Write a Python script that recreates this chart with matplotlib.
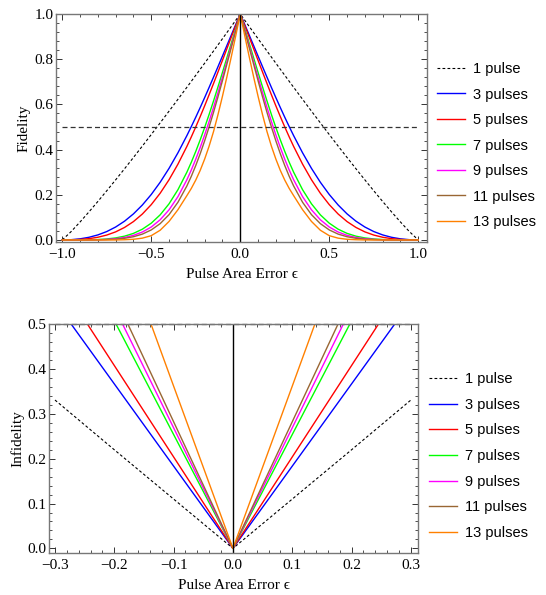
import matplotlib
matplotlib.use('Agg')
import matplotlib.pyplot as plt
from matplotlib.ticker import MultipleLocator, FuncFormatter

# ---------------- data ----------------
labels = ["1 pulse", "3 pulses", "5 pulses", "7 pulses", "9 pulses", "11 pulses", "13 pulses"]
colors = ["black", "#0000ff", "#ff0000", "#00ff00", "#ff00ff", "#996633", "#ff8000"]

# top panel: fidelity vs |eps| (curves are symmetric in eps)
eps_top = [0, 0.025, 0.05, 0.075, 0.1, 0.125, 0.15, 0.175, 0.2, 0.225, 0.25, 0.275, 0.3,
           0.35, 0.4, 0.45, 0.5, 0.55, 0.6, 0.65, 0.7, 0.75, 0.8, 0.85, 0.9, 0.95, 1.0]
fid_1 = [1.0, 0.9725, 0.9451, 0.9178, 0.8906, 0.8634, 0.8363, 0.8093, 0.7823, 0.7555, 0.7288, 0.7020, 0.6755,
         0.6226, 0.5701, 0.5181, 0.4665, 0.4155, 0.3650, 0.3151, 0.2660, 0.2176, 0.1703, 0.1241, 0.0795, 0.0371, 0.0]
fid_3 = [1.0, 0.9539, 0.9074, 0.8605, 0.8137, 0.7670, 0.7207, 0.6750, 0.6300, 0.5861, 0.5432, 0.5017, 0.4615,
         0.3858, 0.3169, 0.2553, 0.2012, 0.1547, 0.1154, 0.0831, 0.0573, 0.0372, 0.0223, 0.0118, 0.0050, 0.0012, 0.0]
fid_5 = [1.0, 0.9495, 0.8983, 0.8466, 0.7949, 0.7435, 0.6926, 0.6426, 0.5936, 0.5461, 0.5002, 0.4560, 0.4137,
         0.3356, 0.2665, 0.2067, 0.1563, 0.1147, 0.0813, 0.0554, 0.0358, 0.0217, 0.0120, 0.0058, 0.0022, 0.0005, 0.0]
fid_7 = [1.0, 0.9364, 0.8717, 0.8065, 0.7417, 0.6778, 0.6155, 0.5553, 0.4977, 0.4431, 0.3918, 0.3439, 0.2997,
         0.2225, 0.1600, 0.1111, 0.0743, 0.0476, 0.0291, 0.0168, 0.0090, 0.0045, 0.0019, 0.0007, 0.0002, 0.0, 0.0]
fid_9 = [1.0, 0.9305, 0.8602, 0.7899, 0.7205, 0.6526, 0.5871, 0.5243, 0.4649, 0.4091, 0.3573, 0.3096, 0.2661,
         0.1918, 0.1334, 0.0893, 0.0573, 0.0351, 0.0204, 0.0111, 0.0056, 0.0026, 0.0010, 0.0003, 0.0001, 0.0, 0.0]
fid_11 = [1.0, 0.9266, 0.8523, 0.7781, 0.7049, 0.6336, 0.5651, 0.5000, 0.4387, 0.3818, 0.3294, 0.2817, 0.2388,
          0.1669, 0.1121, 0.0722, 0.0444, 0.0259, 0.0143, 0.0074, 0.0035, 0.0015, 0.0006, 0.0002, 0.0, 0.0, 0.0]
fid_13 = [1.0, 0.905, 0.812, 0.722, 0.636, 0.555, 0.480, 0.415, 0.358, 0.308, 0.265, 0.228, 0.196,
          0.134, 0.082, 0.043, 0.019, 0.008, 0.003, 0.001, 0.0, 0.0, 0.0, 0.0, 0.0, 0.0, 0.0]
fid_all = [fid_1, fid_3, fid_5, fid_7, fid_9, fid_11, fid_13]
fid_threshold = 0.5

# bottom panel: infidelity vs |eps|
eps_bot = [0, 0.1, 0.2, 0.3]
inf_1 = [0.0, 0.110, 0.220, 0.331]
inf_3 = [0.0, 0.1835, 0.367, 0.5505]
inf_5 = [0.0, 0.204, 0.408, 0.612]
inf_7 = [0.0, 0.254, 0.508, 0.761]
inf_9 = [0.0, 0.269, 0.538, 0.806]
inf_11 = [0.0, 0.2825, 0.565, 0.847]
inf_13 = [0.0, 0.362, 0.725, 1.087]
inf_all = [inf_1, inf_3, inf_5, inf_7, inf_9, inf_11, inf_13]


def mirror(xs, ys):
    x = [-v for v in xs[::-1]] + list(xs[1:])
    y = list(ys[::-1]) + list(ys[1:])
    return x, y


SERIF = ['Liberation Serif', 'DejaVu Serif']
SANS = ['Liberation Sans', 'DejaVu Sans']
plt.rcParams['font.family'] = SERIF


def fmt(v, pos):
    s = f"{round(v, 3) + 0.0:.1f}"
    if s == "-0.0":
        s = "0.0"
    return s.replace('-', '\u2212')


def style_axes(ax, xmaj, xmin, ymaj, ymin):
    ax.xaxis.set_major_locator(MultipleLocator(xmaj))
    ax.xaxis.set_minor_locator(MultipleLocator(xmin))
    ax.yaxis.set_major_locator(MultipleLocator(ymaj))
    ax.yaxis.set_minor_locator(MultipleLocator(ymin))
    ax.xaxis.set_major_formatter(FuncFormatter(fmt))
    ax.yaxis.set_major_formatter(FuncFormatter(fmt))
    ax.tick_params(which='both', direction='in', top=True, right=True, color='#333333')
    ax.tick_params(which='major', length=4.0, width=0.7, labelsize=11)
    ax.tick_params(which='minor', length=2.2, width=0.6)
    ax.tick_params(axis='y', pad=2)
    ax.tick_params(axis='x', pad=4)
    for sp in ax.spines.values():
        sp.set_color('#777777')
        sp.set_linewidth(1.0)


fig = plt.figure(figsize=(5.46, 5.95), dpi=100)
W, H = 546.0, 595.0

# ---------------- top panel ----------------
ax1 = fig.add_axes([56 / W, 1 - 242 / H, (427 - 56) / W, (242 - 14) / H])
for i, (ys, c) in enumerate(zip(fid_all, colors)):
    x, y = mirror(eps_top, ys)
    if i == 0:
        ax1.plot(x, y, color=c, lw=0.8, dashes=(2.5, 2.0), label=labels[i])
    else:
        ax1.plot(x, y, color=c, lw=1.0, label=labels[i])
ax1.plot([-1, 1], [fid_threshold, fid_threshold], color='#333333', lw=0.9, dashes=(4, 2.5))
ax1.axvline(0, color='black', lw=1.0)
ax1.set_xlim(-1.035, 1.049)
ax1.set_ylim(-0.009, 1.0)
style_axes(ax1, 0.5, 0.1, 0.2, 0.04)
ax1.set_xlabel('Pulse Area Error \u03f5', fontsize=11, labelpad=5)
ax1.set_ylabel('Fidelity', fontsize=11, labelpad=2.5)

h1, l1 = ax1.get_legend_handles_labels()
fig.legend(h1, l1, loc='upper left', bbox_to_anchor=(437 / W, 1 - 62 / H), frameon=False,
           prop={'family': SANS, 'size': 10.5}, handlelength=1.9, handletextpad=0.6,
           labelspacing=0.79, borderpad=0, borderaxespad=0)

# ---------------- bottom panel ----------------
ax2 = fig.add_axes([49.3 / W, 1 - 553.3 / H, (418 - 49.3) / W, (553.3 - 324.3) / H])
for i, (ys, c) in enumerate(zip(inf_all, colors)):
    x, y = mirror(eps_bot, ys)
    if i == 0:
        ax2.plot(x, y, color=c, lw=0.8, dashes=(2.5, 2.0), label=labels[i])
    else:
        ax2.plot(x, y, color=c, lw=1.0, label=labels[i])
ax2.plot([-0.3, 0.3], [fid_threshold, fid_threshold], color='#333333', lw=0.9, dashes=(4, 2.5), clip_on=False)
ax2.axvline(0, color='black', lw=1.0)
ax2.set_xlim(-0.3096, 0.312)
ax2.set_ylim(-0.011, 0.5)
style_axes(ax2, 0.1, 0.02, 0.1, 0.02)
ax2.set_xlabel('Pulse Area Error \u03f5', fontsize=11, labelpad=5)
ax2.set_ylabel('Infidelity', fontsize=11, labelpad=2.5)

h2, l2 = ax2.get_legend_handles_labels()
fig.legend(h2, l2, loc='upper left', bbox_to_anchor=(429 / W, 1 - 372 / H), frameon=False,
           prop={'family': SANS, 'size': 10.5}, handlelength=1.9, handletextpad=0.6,
           labelspacing=0.80, borderpad=0, borderaxespad=0)

fig.savefig('out.png', dpi=100)
